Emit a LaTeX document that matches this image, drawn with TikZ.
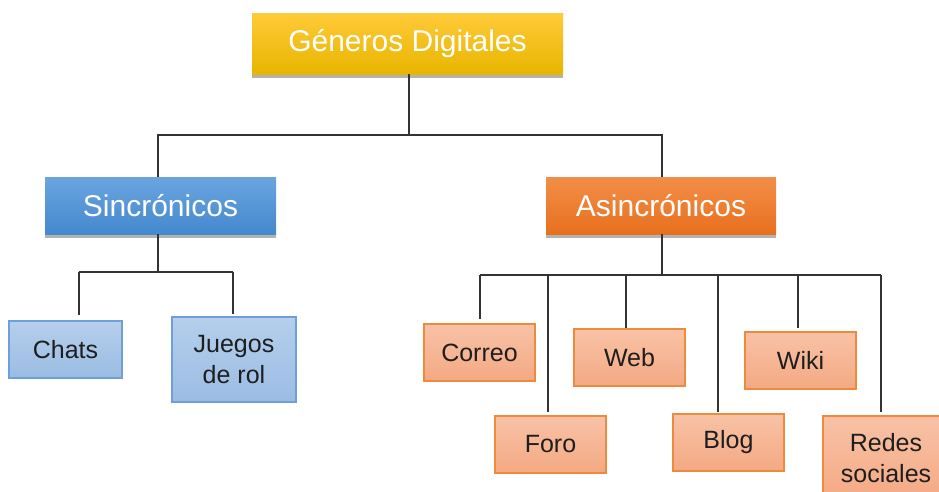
\documentclass[tikz,border=0pt]{standalone}
\usepackage{fontspec}
\setmainfont{Liberation Sans}
\usetikzlibrary{shadows}
\definecolor{gtop}{HTML}{FFCA38}
\definecolor{gbot}{HTML}{E8B500}
\definecolor{btop}{HTML}{6AA5E0}
\definecolor{bbot}{HTML}{4488CE}
\definecolor{otop}{HTML}{F28E48}
\definecolor{obot}{HTML}{E8701E}
\definecolor{lbtop}{HTML}{B5CFEC}
\definecolor{lbbot}{HTML}{9BBCE3}
\definecolor{lbdraw}{HTML}{6E9FD8}
\definecolor{lotop}{HTML}{F8C2A6}
\definecolor{lobot}{HTML}{F4A983}
\definecolor{lodraw}{HTML}{EE8A3E}
\definecolor{linec}{HTML}{333333}
\definecolor{leaftext}{HTML}{1E1E1E}
\tikzset{
  bigbox/.style={inner sep=0pt, text=white, font=\fontsize{30}{36}\selectfont,
    drop shadow={shadow xshift=0pt, shadow yshift=-4pt, opacity=0.3, fill=black}},
  titlebox/.style={bigbox, top color=gtop, bottom color=gbot, minimum width=311pt, minimum height=61pt},
  syncbox/.style={bigbox, top color=btop, bottom color=bbot, minimum width=231pt, minimum height=57pt},
  asyncbox/.style={bigbox, top color=otop, bottom color=obot, minimum width=230pt, minimum height=57pt},
  leaf/.style={inner sep=0pt, text=leaftext, align=center, line width=1.2pt,
    font=\fontsize{25}{31}\selectfont, minimum width=111pt, minimum height=57pt},
  blueleaf/.style={leaf, top color=lbtop, bottom color=lbbot, draw=lbdraw},
  orangeleaf/.style={leaf, top color=lotop, bottom color=lobot, draw=lodraw},
  conn/.style={draw=linec, line width=1.4pt}
}
\begin{document}
\begin{tikzpicture}[x=1pt,y=-1pt]
\useasboundingbox (0,0) rectangle (939,491);
\clip (0,0) rectangle (939,491);
% top level
\node[titlebox] (title) at (407.5,43.5) {Géneros Digitales};
\node[syncbox] (sinc) at (160.5,205.5) {Sincrónicos};
\node[asyncbox] (asinc) at (661,205.5) {Asincrónicos};
% synchronous leaves
\node[blueleaf, minimum width=113pt] (chats) at (65.5,349.5) {Chats};
\node[blueleaf, minimum width=124pt, minimum height=85pt] (juegos) at (234,359.5) {Juegos\\de rol};
% asynchronous leaves
\node[orangeleaf] (correo) at (479.5,352.5) {Correo};
\node[orangeleaf] (foro) at (550.5,444.5) {Foro};
\node[orangeleaf] (web) at (629.5,357.5) {Web};
\node[orangeleaf] (blog) at (728.5,442.5) {Blog};
\node[orangeleaf] (wiki) at (800.5,360.5) {Wiki};
\node[orangeleaf, minimum width=126pt, minimum height=85pt] (redes) at (886,458.5) {Redes\\sociales};
% bars
\coordinate (mL) at (158,135);
\coordinate (mR) at (662,135);
\coordinate (mC) at (409,135);
\coordinate (sL) at (79,272);
\coordinate (sR) at (233,272);
\coordinate (sC) at (158,272);
\coordinate (aL) at (480,275);
\coordinate (aR) at (881,275);
\coordinate (aC) at (662,275);
\coordinate (aFo) at (548,275);
\coordinate (aWe) at (626,275);
\coordinate (aBl) at (718,275);
\coordinate (aWi) at (798,275);
% connectors
\draw[conn] (mC |- title.south) -- (mC);
\draw[conn] (mL |- sinc.north) -- (mL) -- (mR) -- (mR |- asinc.north);
\draw[conn] (sC |- sinc.south) -- (sC);
\draw[conn] (sL) -- (sR);
\draw[conn, shorten >=5pt] (sL) -- (sL |- chats.north);
\draw[conn, shorten >=2pt] (sR) -- (sR |- juegos.north);
\draw[conn] (aC |- asinc.south) -- (aC);
\draw[conn] (aL) -- (aR);
\draw[conn, shorten >=4pt] (aL) -- (aL |- correo.north);
\draw[conn, shorten >=3pt] (aFo) -- (aFo |- foro.north);
\draw[conn] (aWe) -- (aWe |- web.north);
\draw[conn, shorten >=1pt] (aBl) -- (aBl |- blog.north);
\draw[conn, shorten >=3pt] (aWi) -- (aWi |- wiki.north);
\draw[conn, shorten >=3pt] (aR) -- (aR |- redes.north);
\end{tikzpicture}
\end{document}
